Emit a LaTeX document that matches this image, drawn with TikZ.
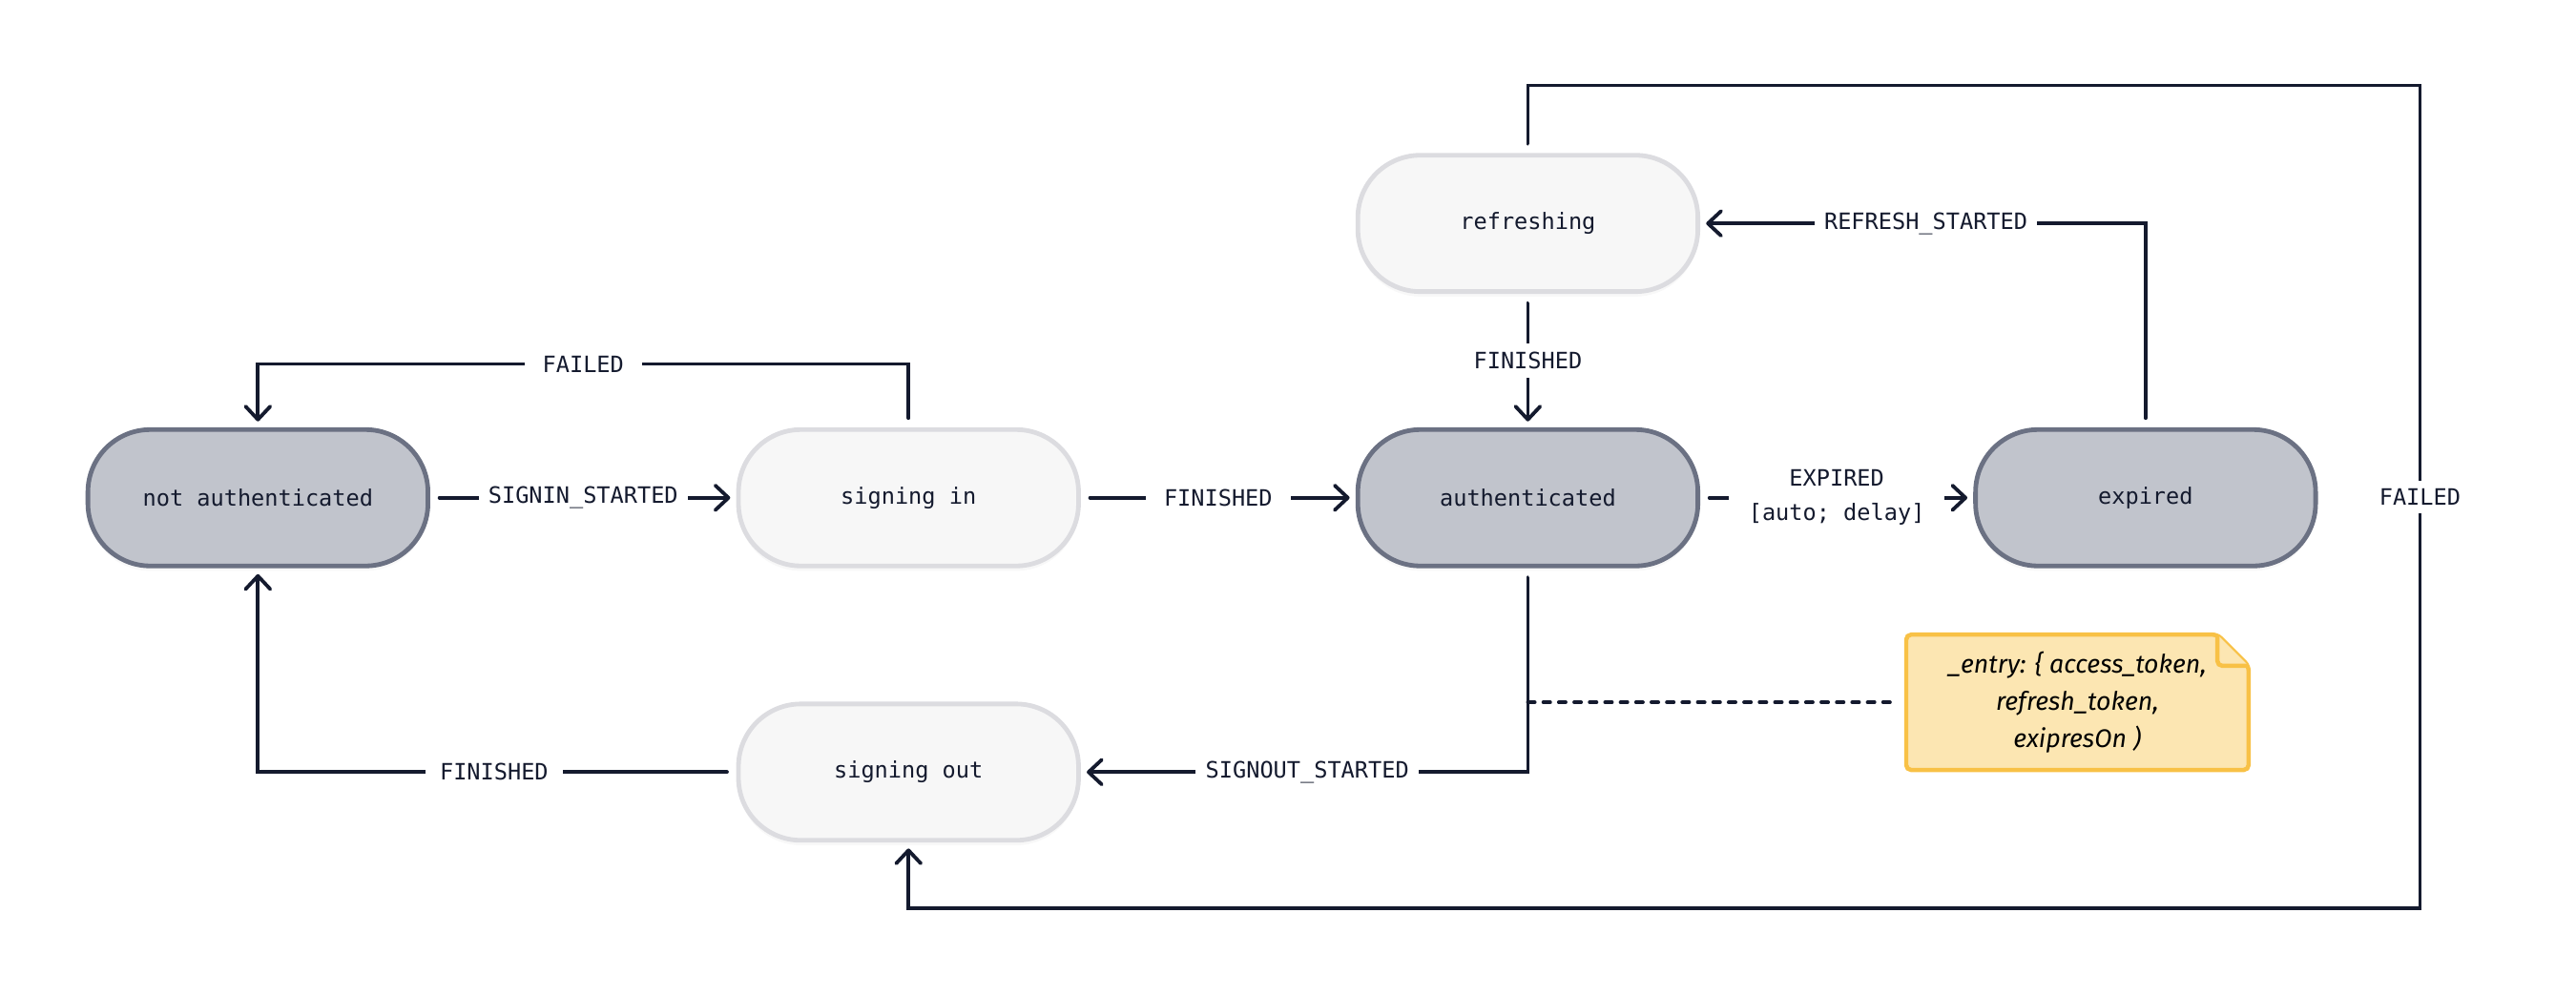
\documentclass[tikz,border=0pt]{standalone}
\usepackage{fontspec}
\setmonofont{DejaVu Sans Mono}
\newfontfamily\notefont{Fira Sans}
\usetikzlibrary{arrows.meta,backgrounds,shadows}
\definecolor{ink}{HTML}{141A2E}
\definecolor{darkfill}{HTML}{C1C4CC}
\definecolor{darkline}{HTML}{6B7183}
\definecolor{lightfill}{HTML}{F7F7F7}
\definecolor{lightline}{HTML}{DCDCE0}
\definecolor{notefill}{HTML}{FCE6B2}
\definecolor{noteline}{HTML}{F8C146}
\tikzset{
  state/.style={rounded corners=38pt, minimum width=207pt, minimum height=83pt,
    line width=2.8pt, outer sep=5pt, text=ink,
    font=\ttfamily\fontsize{13.7}{16}\selectfont,
    drop shadow={shadow xshift=0pt, shadow yshift=-3pt, opacity=0.06}},
  dark/.style={state, fill=darkfill, draw=darkline},
  light/.style={state, fill=lightfill, draw=lightline},
  lbl/.style={fill=white, inner xsep=6pt, inner ysep=5pt, text=ink,
    font=\ttfamily\fontsize{13.7}{21}\selectfont},
  edge/.style={->, draw=ink, line width=2.2pt, line cap=round, shorten <=2pt},
  note/.style={minimum width=208pt, minimum height=82pt, inner sep=0pt, align=center,
    text=black, font=\notefont\itshape\fontsize{15.5}{22.5}\selectfont},
  notebox/.style={fill=notefill, draw=noteline, line width=2.6pt, rounded corners=3pt},
}
\begin{document}
\begin{tikzpicture}[x=1pt, y=-1pt, >={Straight Barb[length=8pt,width=15pt,round]}]
  \useasboundingbox (0,0) rectangle (1568,606);

  \node[dark]  (na) at (157,303)  {not authenticated};
  \node[light] (si) at (553,303)  {signing in};
  \node[dark]  (au) at (930,303)  {authenticated};
  \node[dark]  (ex) at (1306,303) {expired};
  \node[light] (re) at (930,136)  {refreshing};
  \node[light] (so) at (553,470)  {signing out};
  \node[note]  (note) at (1264.5,427.5) {\_entry: \{ access\_token,\\refresh\_token,\\exipresOn )};

  \begin{scope}[on background layer]
    \draw[notebox] (note.north west) -- ([xshift=-19pt]note.north east)
      -- ([yshift=-19pt]note.north east) -- (note.south east) -- (note.south west) -- cycle;
    \draw[notebox] ([xshift=-19pt]note.north east) |- ([yshift=-19pt]note.north east);
  \end{scope}

  \coordinate (tr) at (1473,52);
  \coordinate (br) at (1473,553);

  \draw[edge] (na) -- node[lbl] {SIGNIN\_STARTED} (si);
  \draw[edge] (si) -- node[lbl, inner xsep=11pt] {FINISHED} (au);
  \draw[edge] (au) -- node[lbl, inner xsep=12pt, align=center] {EXPIRED\\{[auto; delay]}} (ex);
  \draw[edge] (ex.north) |- node[lbl, pos=0.75] {REFRESH\_STARTED} (re.east);
  \draw[edge] (re) -- node[lbl] {FINISHED} (au);
  \draw[edge] (re.north) |- (tr) -- node[lbl] {FAILED} (br) -| (so.south);
  \draw[edge] (si.north) -- ++(0,-35) -| node[lbl, pos=0.25, inner xsep=11pt] {FAILED} (na.north);
  \draw[edge] (au.south) |- node[lbl, pos=0.75] {SIGNOUT\_STARTED} (so.east);
  \draw[edge] (so.west) -| node[lbl, pos=0.25, inner xsep=9pt] {FINISHED} (na.south);
  \draw[ink, line width=2.2pt, line cap=round, dash pattern=on 4.2pt off 5.2pt, shorten >=7pt]
    (au.south |- note.west) -- (note.west);
\end{tikzpicture}
\end{document}
